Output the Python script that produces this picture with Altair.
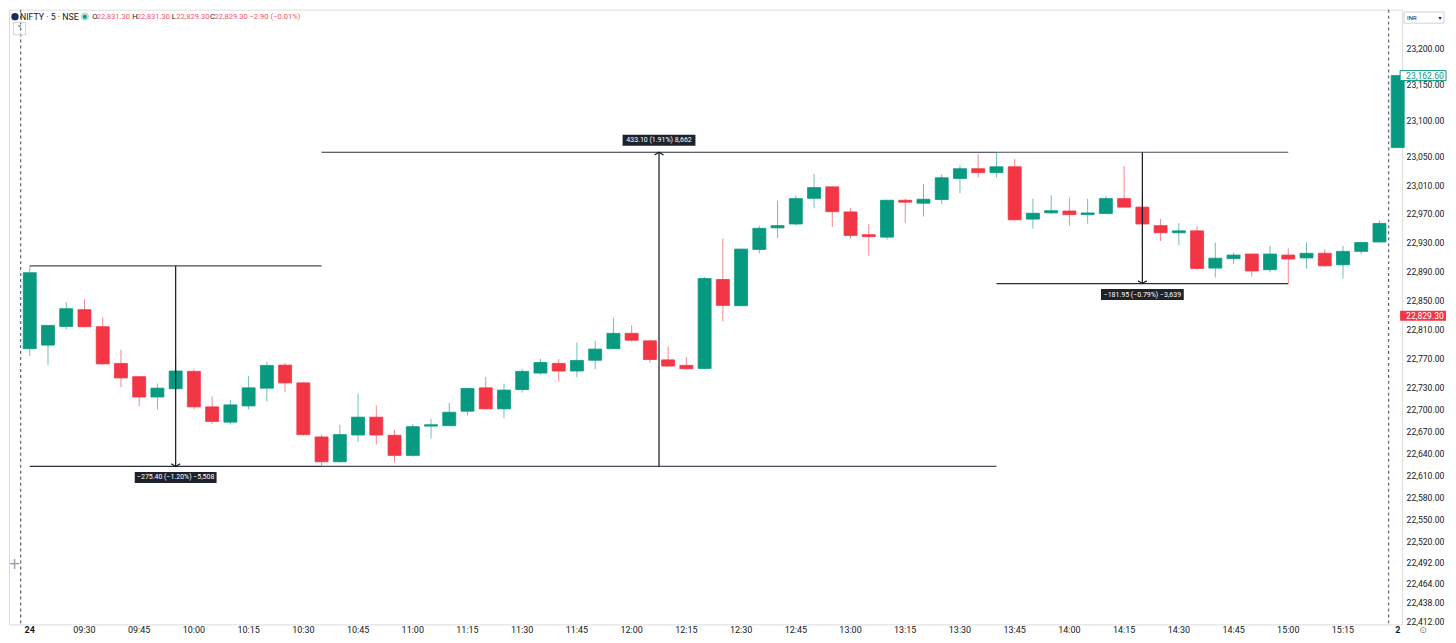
import altair as alt
import pandas as pd

# ---------------- data ----------------
opens = [22784.0, 22788.9, 22814.6, 22837.7, 22814.2, 22763.7, 22745.5, 22717.6, 22728.9, 22752.8,
         22704.1, 22683.2, 22705.4, 22729.8, 22761.4, 22737.0, 22662.9, 22629.0, 22665.6, 22690.0,
         22665.2, 22637.7, 22677.8, 22678.3, 22698.1, 22730.2, 22701.4, 22727.9, 22750.5, 22763.7,
         22753.3, 22768.1, 22784.0, 22805.1, 22794.8, 22768.6, 22761.0, 22756.9, 22879.3, 22843.1,
         22920.9, 22950.7, 22956.1, 22991.7, 23007.6, 22972.8, 22941.2, 22937.9, 22989.0, 22984.9,
         22990.0, 23019.3, 23032.8, 23027.4, 23035.5, 22962.9, 22971.5, 22974.1, 22969.1, 22970.5,
         22991.3, 22979.5, 22953.8, 22943.9, 22946.6, 22895.1, 22908.1, 22914.5, 22892.8, 22913.1,
         22909.1, 22915.5, 22899.6, 22918.2, 22931.2, 23062.2]
highs = [22898.0, 22816.5, 22848.1, 22852.1, 22827.4, 22782.7, 22746.0, 22736.0, 22771.8, 22756.6,
         22718.0, 22713.6, 22746.5, 22765.5, 22764.1, 22738.0, 22666.5, 22679.6, 22722.1, 22706.2,
         22672.9, 22680.5, 22687.8, 22709.5, 22730.6, 22745.1, 22736.0, 22756.4, 22769.9, 22769.5,
         22792.5, 22794.8, 22826.8, 22816.0, 22795.5, 22787.1, 22772.2, 22882.9, 22936.2, 22922.0,
         22953.4, 22988.1, 22995.8, 23025.6, 23008.0, 22978.6, 22956.1, 22989.5, 22991.3, 23011.6,
         23025.2, 23037.8, 23053.0, 23055.7, 23046.3, 22991.3, 22995.8, 22992.7, 22991.3, 22995.0,
         23036.5, 22995.8, 22963.3, 22957.5, 22952.9, 22930.4, 22916.8, 22915.0, 22925.8, 22922.2,
         22930.4, 22921.3, 22925.8, 22931.7, 22960.6, 23162.6]
lows = [22774.0, 22761.8, 22810.1, 22813.5, 22761.8, 22731.2, 22704.9, 22700.4, 22728.0, 22700.4,
        22680.5, 22679.7, 22700.4, 22711.3, 22724.4, 22665.0, 22622.6, 22628.0, 22656.1, 22652.6,
        22627.6, 22636.0, 22660.7, 22678.0, 22692.3, 22700.5, 22688.6, 22723.8, 22748.3, 22738.4,
        22744.7, 22755.6, 22783.0, 22793.5, 22764.5, 22759.0, 22755.5, 22755.9, 22821.4, 22842.5,
        22915.5, 22936.6, 22954.2, 22978.6, 22952.0, 22936.2, 22912.2, 22934.4, 22957.9, 22966.4,
        22983.2, 22998.9, 23020.6, 23020.6, 22961.0, 22949.7, 22970.0, 22953.8, 22956.5, 22970.0,
        22979.0, 22919.9, 22932.6, 22926.7, 22892.9, 22882.0, 22901.0, 22883.7, 22889.2, 22873.75,
        22894.2, 22897.0, 22880.6, 22914.5, 22930.5, 23062.2]
closes = [22888.7, 22816.0, 22839.0, 22814.2, 22763.1, 22743.8, 22717.6, 22729.8, 22753.3, 22704.1,
          22684.2, 22706.8, 22730.2, 22761.0, 22737.0, 22666.1, 22629.0, 22666.1, 22690.0, 22665.6,
          22637.7, 22677.0, 22679.6, 22696.7, 22729.3, 22701.4, 22727.1, 22752.8, 22765.0, 22753.3,
          22767.8, 22783.4, 22805.1, 22795.6, 22769.1, 22760.1, 22756.4, 22880.6, 22843.6, 22921.3,
          22950.1, 22953.8, 22991.3, 23006.6, 22973.2, 22940.3, 22938.5, 22989.0, 22986.3, 22990.4,
          23020.2, 23032.8, 23027.4, 23035.5, 22961.9, 22971.0, 22974.5, 22969.1, 22971.4, 22991.3,
          22979.5, 22956.1, 22943.9, 22946.6, 22894.6, 22908.7, 22913.1, 22891.1, 22914.5, 22907.7,
          22915.5, 22898.2, 22918.2, 22930.4, 22956.9, 23162.6]
bar_index = list(range(len(opens)))

price_ticks = [23200, 23150, 23100, 23050, 23010, 22970, 22930, 22890, 22850, 22810, 22770,
               22730, 22700, 22670, 22640, 22610, 22580, 22550, 22520, 22492, 22464, 22438, 22412]

time_labels = ["09:30", "09:45", "10:00", "10:15", "10:30", "10:45", "11:00", "11:15", "11:30",
               "11:45", "12:00", "12:15", "12:30", "12:45", "13:00", "13:15", "13:30", "13:45",
               "14:00", "14:15", "14:30", "14:45", "15:00", "15:15"]
time_label_index = [3, 6, 9, 12, 15, 18, 21, 24, 27, 30, 33, 36, 39, 42, 45, 48, 51, 54, 57, 60,
                    63, 66, 69, 72]
day_labels = ["24", "2"]
day_label_index = [0, 75]
session_breaks = [-0.5, 74.5]

measure_start = [0, 16, 53]
measure_end = [16, 53, 69]
measure_from = [22898.0, 22622.6, 23055.7]
measure_to = [22622.6, 23055.7, 22873.75]
measure_text = ["\u2212275.40 (\u22121.20%) \u22125,508", "433.10 (1.91%) 8,662",
                "\u2212181.95 (\u22120.79%) \u22123,639"]

last_close_label = 23162.60
symbol_price_label = 22829.30

# ---------------- styling ----------------
W, H = 1396, 616
GREEN = "#089981"
RED = "#F23645"
DARK = "#131722"
FONT = "Roboto"

df = pd.DataFrame({"idx": bar_index, "open": opens, "high": highs, "low": lows, "close": closes})
df["dir"] = ["up" if c >= o else "down" for o, c in zip(opens, closes)]

xscale = alt.Scale(domain=[-1.1376, 75.24], nice=False, zero=False, padding=0)
yscale = alt.Scale(type="log", domain=[22408, 23255], nice=False, zero=False, padding=0)
color = alt.Color("dir:N", scale=alt.Scale(domain=["up", "down"], range=[GREEN, RED]), legend=None)

yaxis = alt.Axis(orient="right", values=price_ticks, format=",.2f", title=None, grid=False,
                 ticks=False, tickSize=0, domain=False, labelPadding=4, labelFontSize=8.6,
                 labelColor=DARK, labelFont=FONT, labelAlign="left", labelBaseline="middle")

base = alt.Chart(df).encode(x=alt.X("idx:Q", scale=xscale, axis=None))

wicks = base.mark_rule(strokeWidth=1, opacity=0.6).encode(
    y=alt.Y("low:Q", scale=yscale, axis=yaxis), y2="high:Q", color=color)
bodies = base.mark_bar(width=13, strokeWidth=0.8).encode(
    y=alt.Y("open:Q", scale=yscale), y2="close:Q", color=color,
    stroke=alt.Stroke("dir:N", scale=alt.Scale(domain=["up", "down"], range=[GREEN, RED]), legend=None))

# session separators
sess = alt.Chart(pd.DataFrame({"idx": session_breaks})).mark_rule(
    strokeDash=[3, 3], strokeWidth=1.3, color="#6a6d78").encode(
    x=alt.X("idx:Q", scale=xscale, axis=None), y=alt.value(0), y2=alt.value(H))

# measurement tool
mdf = pd.DataFrame({"s": measure_start, "e": measure_end, "a": measure_from, "b": measure_to,
                    "t": measure_text})
mdf["mid"] = (mdf["s"] + mdf["e"]) / 2
hline_a = alt.Chart(mdf).mark_rule(strokeWidth=1.2, color="#4a4d57").encode(
    x=alt.X("s:Q", scale=xscale, axis=None), x2="e:Q", y=alt.Y("a:Q", scale=yscale))
hline_b = alt.Chart(mdf).mark_rule(strokeWidth=1.2, color="#2a2e39").encode(
    x=alt.X("s:Q", scale=xscale, axis=None), x2="e:Q", y=alt.Y("b:Q", scale=yscale))
vline = alt.Chart(mdf).mark_rule(strokeWidth=1.2, color=DARK).encode(
    x=alt.X("mid:Q", scale=xscale, axis=None), y=alt.Y("a:Q", scale=yscale), y2="b:Q")

layers = [sess, wicks, bodies, hline_a, hline_b, vline]

box_w = [82, 73, 83]
for k in range(len(measure_text)):
    row = mdf.iloc[[k]]
    down = measure_to[k] < measure_from[k]
    off = 11 if down else -12
    chev = "M-1,-0.6L0,0L1,-0.6" if down else "M-1,0.6L0,0L1,0.6"
    layers.append(alt.Chart(row).mark_point(shape=chev, size=81, filled=False, strokeWidth=1.2,
                                            color=DARK, opacity=1).encode(
        x=alt.X("mid:Q", scale=xscale, axis=None), y=alt.Y("b:Q", scale=yscale)))
    hw = box_w[k] / 2
    hh = 5.5 / hw
    rect = f"M-1,-{hh:.4f}L1,-{hh:.4f}L1,{hh:.4f}L-1,{hh:.4f}Z"
    layers.append(alt.Chart(row).mark_point(shape=rect, size=(2 * hw) ** 2, filled=True,
                                            fill="#1e222d", strokeWidth=0, opacity=1,
                                            yOffset=off).encode(
        x=alt.X("mid:Q", scale=xscale, axis=None), y=alt.Y("b:Q", scale=yscale)))
    layers.append(alt.Chart(row).mark_text(fontSize=7, font=FONT, color="white", align="center",
                                           baseline="middle", yOffset=off).encode(
        x=alt.X("mid:Q", scale=xscale, axis=None), y=alt.Y("b:Q", scale=yscale), text="t:N"))

# x axis labels
tl = pd.DataFrame({"idx": time_label_index, "lab": time_labels})
layers.append(alt.Chart(tl).mark_text(fontSize=9, font=FONT, color=DARK, baseline="middle",
                                      align="center").encode(
    x=alt.X("idx:Q", scale=xscale, axis=None), y=alt.value(H + 6), text="lab:N"))
dl = pd.DataFrame({"idx": day_label_index, "lab": day_labels})
layers.append(alt.Chart(dl).mark_text(fontSize=9, font=FONT, color=DARK, fontWeight="bold",
                                      baseline="middle", align="center").encode(
    x=alt.X("idx:Q", scale=xscale, axis=None), y=alt.value(H + 6), text="lab:N"))

# price tags on the axis
tags = pd.DataFrame({"p": [last_close_label, symbol_price_label],
                     "lab": [f"{last_close_label:,.2f}", f"{symbol_price_label:,.2f}"]})
tag_rect = "M-1,-0.2174L1,-0.2174L1,0.2174L-1,0.2174Z"
layers.append(alt.Chart(tags.iloc[[0]]).mark_point(shape=tag_rect, size=2116, filled=False,
                                                   fill="white", fillOpacity=1, stroke=GREEN,
                                                   strokeWidth=1, opacity=1).encode(
    x=alt.value(W + 21), y=alt.Y("p:Q", scale=yscale)))
layers.append(alt.Chart(tags.iloc[[1]]).mark_point(shape=tag_rect, size=2116, filled=True,
                                                   fill=RED, strokeWidth=0, opacity=1).encode(
    x=alt.value(W + 21), y=alt.Y("p:Q", scale=yscale)))
layers.append(alt.Chart(tags.iloc[[0]]).mark_text(fontSize=8.6, font=FONT, color=GREEN,
                                                  align="left", baseline="middle").encode(
    x=alt.value(W + 4), y=alt.Y("p:Q", scale=yscale), text="lab:N"))
layers.append(alt.Chart(tags.iloc[[1]]).mark_text(fontSize=8.6, font=FONT, color="white",
                                                  align="left", baseline="middle").encode(
    x=alt.value(W + 4), y=alt.Y("p:Q", scale=yscale), text="lab:N"))

# header legend
hdr = pd.DataFrame({
    "t": ["NIFTY \u00b7 5 \u00b7 NSE", "O", "22,831.30", "H", "22,831.30", "L", "22,829.30", "C",
          "22,829.30", "\u22122.90 (\u22120.01%)"],
    "px": [11, 83.5, 88, 123.5, 128, 163, 167.5, 201.5, 206, 241],
    "c": [DARK, DARK, RED, DARK, RED, DARK, RED, DARK, RED, RED],
    "fs": [8.8, 7.6, 7.6, 7.6, 7.6, 7.6, 7.6, 7.6, 7.6, 7.6],
})
for _, r in hdr.iterrows():
    layers.append(alt.Chart(pd.DataFrame({"t": [r["t"]]})).mark_text(
        fontSize=float(r["fs"]), font=FONT, color=r["c"], align="left", baseline="middle",
        opacity=0.85 if r["c"] == RED else 1).encode(
        x=alt.value(float(r["px"])), y=alt.value(7), text="t:N"))

one = pd.DataFrame({"a": [0]})
layers.append(alt.Chart(one).mark_point(shape="circle", size=55, filled=True, color="#1e2a5a",
                                        opacity=1).encode(x=alt.value(6), y=alt.value(7)))
layers.append(alt.Chart(one).mark_point(shape="circle", size=70, filled=True, color="#b2dfdb",
                                        opacity=1).encode(x=alt.value(76), y=alt.value(7)))
layers.append(alt.Chart(one).mark_point(shape="circle", size=16, filled=True, color=GREEN,
                                        opacity=1).encode(x=alt.value(76), y=alt.value(7)))
layers.append(alt.Chart(one).mark_point(shape="square", size=150, filled=False, color="#d1d4dc",
                                        strokeWidth=1, opacity=1).encode(x=alt.value(10.5), y=alt.value(19)))
layers.append(alt.Chart(pd.DataFrame({"t": ["\u02c5"]})).mark_text(
    fontSize=9, color=DARK, font="DejaVu Sans").encode(x=alt.value(10.5), y=alt.value(19), text="t:N"))

# INR selector and bottom icons
layers.append(alt.Chart(one).mark_point(shape="M-1,-0.28L1,-0.28L1,0.28L-1,0.28Z", size=1600,
                                        filled=False, color="#d1d4dc", strokeWidth=1,
                                        opacity=1).encode(x=alt.value(W + 22), y=alt.value(8)))
layers.append(alt.Chart(pd.DataFrame({"t": ["INR"]})).mark_text(
    fontSize=6, font=FONT, color=DARK, align="left", baseline="middle").encode(
    x=alt.value(W + 5), y=alt.value(8), text="t:N"))
layers.append(alt.Chart(pd.DataFrame({"t": ["\u25be"]})).mark_text(
    fontSize=6, font="DejaVu Sans", color=DARK, baseline="middle").encode(
    x=alt.value(W + 38), y=alt.value(8), text="t:N"))
layers.append(alt.Chart(pd.DataFrame({"t": ["\u2299"]})).mark_text(
    fontSize=9, font="DejaVu Sans", color="#787b86", baseline="middle").encode(
    x=alt.value(W + 21), y=alt.value(H + 6), text="t:N"))
layers.append(alt.Chart(pd.DataFrame({"t": ["+"]})).mark_text(
    fontSize=15, font="DejaVu Sans", color="#9598a1", fontWeight="normal", baseline="middle").encode(
    x=alt.value(5.5), y=alt.value(556), text="t:N"))

chart = alt.layer(*layers).properties(width=W, height=H, padding=0).configure_view(
    strokeWidth=0).configure(background="white")

chart.save("out.html", embed_options={"renderer": "svg", "actions": False})
